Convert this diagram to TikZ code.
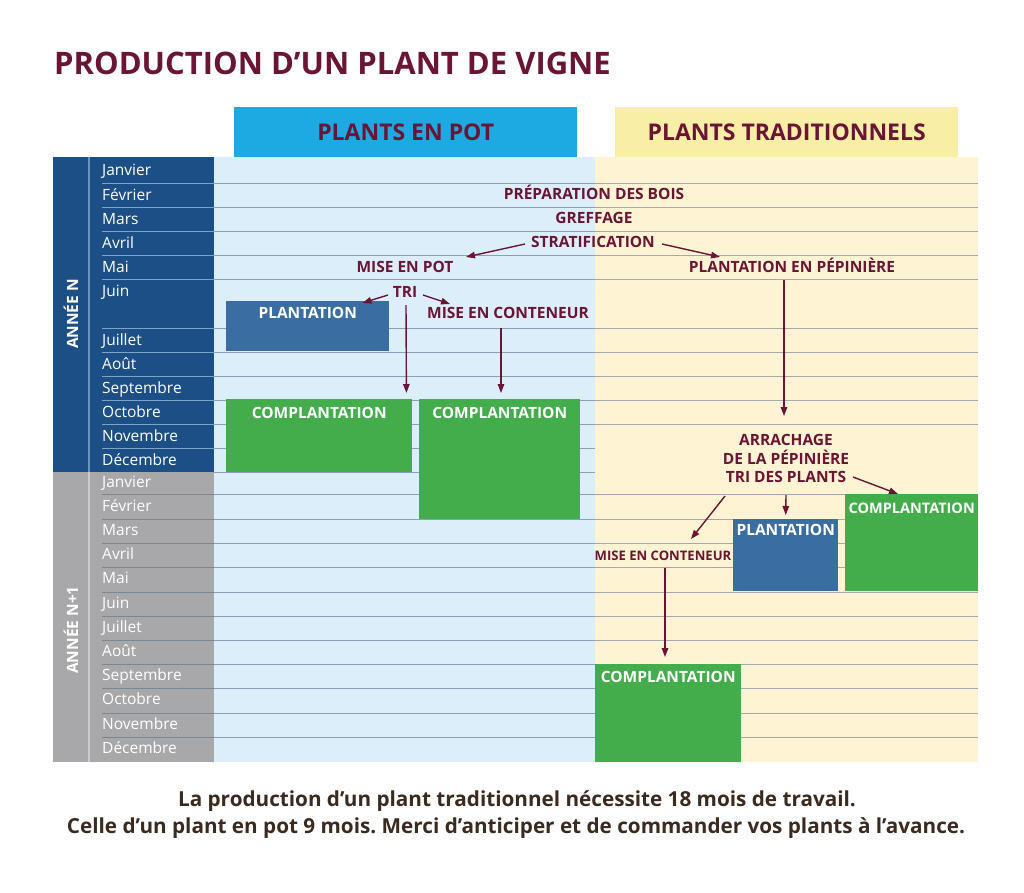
\documentclass[tikz,border=0pt]{standalone}
\usepackage{fontspec}
\setmainfont{Open Sans}
\frenchspacing
\usetikzlibrary{arrows.meta,calc}
\definecolor{maroon}{HTML}{6B1535}
\definecolor{hblue}{HTML}{1DA9E1}
\definecolor{hyel}{HTML}{F8EEA6}
\definecolor{lblue}{HTML}{DCEEFA}
\definecolor{lyel}{HTML}{FEF4D4}
\definecolor{dblue}{HTML}{1C4F86}
\definecolor{greycol}{HTML}{A8A8AA}
\definecolor{lineA}{HTML}{8CA0B3}
\definecolor{lineY}{HTML}{A3A7AE}
\definecolor{lineN}{HTML}{7FA3C8}
\definecolor{lineG}{HTML}{7C8794}
\definecolor{divN}{HTML}{6D93BB}
\definecolor{divG}{HTML}{CACACA}
\definecolor{grn}{HTML}{42AD4A}
\definecolor{bbox}{HTML}{3A6EA2}
\definecolor{btxt}{HTML}{3B2A20}
\begin{document}
\begin{tikzpicture}[x=1pt,y=-1pt,
  lbl/.style={text=maroon,font=\fontsize{15.5}{18}\selectfont\bfseries,inner sep=0pt,text height=11pt,text depth=0pt},
  smalllbl/.style={text=maroon,font=\fontsize{13.1}{16}\selectfont\bfseries,inner sep=0pt,text height=9.4pt,text depth=0pt},
  month/.style={text=white,font=\fontsize{15.5}{18}\selectfont,inner sep=0pt,text height=11pt,text depth=0pt,anchor=west},
  yearlbl/.style={text=white,font=\fontsize{15.5}{18}\selectfont\bfseries,inner sep=0pt,rotate=90},
  header/.style={text=maroon,font=\fontsize{23}{27}\selectfont\bfseries,inner sep=0pt,anchor=north west,minimum height=50pt},
  bluebox/.style={fill=bbox,inner sep=0pt,anchor=north west},
  greenbox/.style={fill=grn,inner sep=0pt,anchor=north west},
  boxtxt/.style={text=white,font=\fontsize{15.5}{18}\selectfont\bfseries,inner sep=0pt,text height=11pt,text depth=0pt},
  arr/.style={draw=maroon,line width=1.4pt,-{Triangle[length=9pt,width=6.5pt]}},
  note/.style={text=btxt,font=\fontsize{20.7}{24}\selectfont\bfseries,inner sep=0pt,anchor=base}
]
\useasboundingbox[fill=white] (0,0) rectangle (1024,892);

% title
\node[text=maroon,font=\fontsize{31}{36}\selectfont\bfseries,inner sep=0pt,anchor=base west] (title) at (54,74) {PRODUCTION D’UN PLANT DE VIGNE};

% headers
\node[header,fill=hblue,minimum width=343pt] (hpot) at (234,107) {PLANTS EN POT};
\node[header,fill=hyel,minimum width=343pt] (htrad) at (615,107) {PLANTS TRADITIONNELS};

% backgrounds
\fill[lblue] (214,157) rectangle (595,762);
\fill[lyel] (595,157) rectangle (978,762);
\fill[dblue] (53,157) rectangle (214,472);
\fill[greycol] (53,472) rectangle (214,762);
\draw[divN,line width=1.2pt] (89,157) -- (89,472);
\draw[divG,line width=1.2pt] (89,472) -- (89,762);

% lines
\foreach \y in {183,207,231,255,279,328,352,376,400,424,448} {
  \draw[lineN,line width=1pt] (102,\y) -- (214,\y);
}
\foreach \y in {494,519,543,567,592,616,640,664,688,713,737} {
  \draw[lineG,line width=1pt] (102,\y) -- (214,\y);
}
\foreach \y in {183,207,231,255,279,328,352,376,400,424,448,472,494,519,543,567,592,616,640,664,688,713,737} {
  \draw[lineA,line width=1pt] (214,\y) -- (595,\y);
}
\foreach \y in {183,207,231,255,279,328,352,376,400,424,494,519,543,567,592,616,640,664,688,713,737} {
  \draw[lineY,line width=1pt] (595,\y) -- (978,\y);
}

% months
\foreach \y/\m [count=\i] in {170/Janvier,195/Février,219/Mars,243/Avril,267/Mai,291/Juin,340/Juillet,364/Août,388/Septembre,412/Octobre,436/Novembre,460/Décembre,
  482/Janvier,506/Février,530/Mars,554/Avril,578/Mai,603/Juin,627/Juillet,651/Août,675/Septembre,699/Octobre,724/Novembre,748/Décembre} {
  \node[month] (m\i) at (102,\y) {\m};
}
\node[yearlbl] (yN) at (71,314) {ANNÉE N};
\node[yearlbl] (yN1) at (71,630) {ANNÉE N+1};

% boxes
\node[bluebox,minimum width=163pt,minimum height=50pt] (p1) at (226,301) {};
\node[boxtxt] (p1t) at ($(p1.north)+(0,12)$) {PLANTATION};
\node[greenbox,minimum width=186pt,minimum height=73pt] (c1) at (226,399) {};
\node[boxtxt] (c1t) at ($(c1.north)+(0,14)$) {COMPLANTATION};
\node[greenbox,minimum width=161pt,minimum height=120pt] (c2) at (419,399) {};
\node[boxtxt] (c2t) at ($(c2.north)+(0,14)$) {COMPLANTATION};
\node[bluebox,minimum width=105pt,minimum height=72pt] (p2) at (733,519) {};
\node[boxtxt] (p2t) at ($(p2.north)+(0,11)$) {PLANTATION};
\node[greenbox,minimum width=133pt,minimum height=97pt] (c3) at (845,494) {};
\node[boxtxt,font=\fontsize{14.5}{17}\selectfont\bfseries,text height=10.4pt] (c3t) at ($(c3.north)+(0,14)$) {COMPLANTATION};
\node[greenbox,minimum width=146pt,minimum height=98pt] (c4) at (595,664) {};
\node[boxtxt] (c4t) at ($(c4.north)+(0,13)$) {COMPLANTATION};

% labels
\node[lbl] (prep) at (594,194) {PRÉPARATION DES BOIS};
\node[lbl] (greff) at (594,218) {GREFFAGE};
\node[lbl] (strat) at (593,242) {STRATIFICATION};
\node[lbl] (mep) at (405,267) {MISE EN POT};
\node[lbl] (pep) at (792,267) {PLANTATION EN PÉPINIÈRE};
\node[lbl] (tri) at (405,292) {TRI};
\node[lbl] (mec1) at (508,313) {MISE EN CONTENEUR};
\node[lbl] (arr1) at (786,440) {ARRACHAGE};
\node[lbl] (arr2) at (786,459) {DE LA PÉPINIÈRE};
\node[lbl] (arr3) at (786,477) {TRI DES PLANTS};
\node[smalllbl] (mec2) at (663,556) {MISE EN CONTENEUR};

% arrows
\draw[arr] ($(strat.center)+(-68,2)$) -- ($(mep.center)+(61,-10)$);
\draw[arr] ($(strat.center)+(69,2)$) -- ($(pep.center)+(-72,-10)$);
\draw[arr] ($(tri.center)+(-17,3)$) -- ($(p1.north east)+(-27,2)$);
\draw[arr] ($(tri.center)+(18,3)$) -- ($(mec1.center)+(-58,-9)$);
\draw[arr] ($(tri.center)+(1,13)$) -- ($(c1.north east)+(-6,-6)$);
\draw[arr] ($(mec1.center)+(-7,15)$) -- ($(c2.north west)+(82,-6)$);
\draw[arr] ($(pep.center)+(-8,13)$) -- ($(arr1.center)+(-2,-24)$);
\draw[arr] ($(arr3.center)+(67,0)$) -- ($(c3.north west)+(53,0)$);
\draw[arr] ($(arr3.center)+(0,18)$) -- ($(p2.north)+(0,-4)$);
\draw[arr] ($(arr3.center)+(-61,19)$) -- ($(mec2.center)+(28,-17)$);
\draw[arr] ($(mec2.center)+(2,12)$) -- ($(c4.north west)+(70,-7)$);

% bottom note
\node[note] (n1) at (517,806) {La production d’un plant traditionnel nécessite 18 mois de travail.};
\node[note] (n2) at (516,833) {Celle d’un plant en pot 9 mois. Merci d’anticiper et de commander vos plants à l’avance.};
\end{tikzpicture}
\end{document}
